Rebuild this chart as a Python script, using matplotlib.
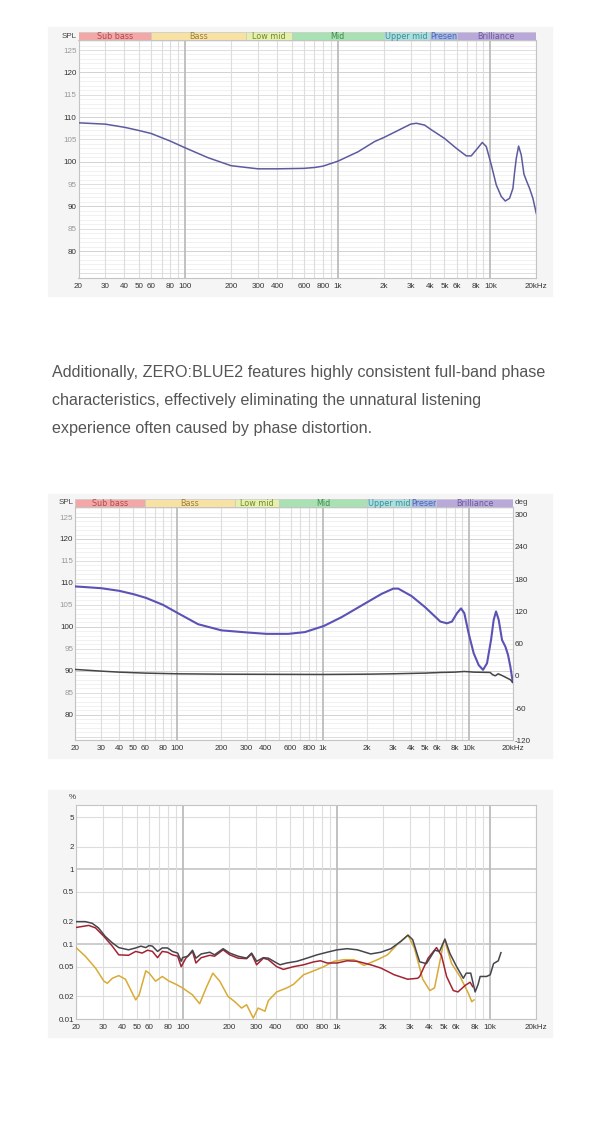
import numpy as np
import matplotlib
matplotlib.use('Agg')
import matplotlib.pyplot as plt
from matplotlib.patches import Rectangle
from matplotlib.ticker import NullLocator
from matplotlib.transforms import Bbox, TransformedBbox

plt.rcParams['font.family'] = ['Liberation Sans', 'DejaVu Sans']

# ---- data ----
# frequency response, first chart
fr1_hz = [20, 30, 40, 49.5, 60, 80, 100, 141, 200, 300, 400, 597, 705, 800, 1000,
          1355, 1742, 2000, 2356, 3000, 3270, 3705, 4040, 5010, 5980, 6950, 7490,
          8290, 8850, 9400, 10140, 10930, 11790, 12520, 13360, 14050, 14400, 14780,
          15310, 15940, 16600, 17300, 18080, 19000, 20000]
fr1_db = [108.7, 108.4, 107.7, 107.0, 106.3, 104.6, 103.1, 100.9, 99.1, 98.4, 98.4,
          98.5, 98.7, 99.0, 100.1, 102.2, 104.5, 105.4, 106.6, 108.4, 108.6, 108.2,
          107.3, 105.2, 103.0, 101.3, 101.3, 103.1, 104.3, 103.4, 99.3, 94.8, 92.2,
          91.2, 91.8, 94.0, 97.5, 100.7, 103.5, 101.5, 97.2, 95.6, 94.0, 91.8, 88.4]

# frequency response + phase, second chart
fr2_hz = [20, 30, 40, 50.6, 61, 80, 100, 139, 201, 306, 410, 577, 751, 1014, 1340,
          2021, 2521, 3032, 3282, 4051, 5003, 6016, 6374, 7083, 7664, 8292, 8838,
          9317, 9977, 10800, 11685, 12513, 13330, 14203, 14814, 15370, 16032, 16900,
          17815, 18582, 19280, 20000]
fr2_db = [109.2, 108.8, 108.2, 107.4, 106.6, 105.0, 103.2, 100.6, 99.2, 98.7, 98.4,
          98.4, 98.8, 100.2, 102.2, 105.65, 107.5, 108.7, 108.7, 107.0, 104.5, 102.0,
          101.2, 100.8, 101.2, 103.1, 104.2, 103.1, 98.5, 94.0, 91.3, 90.2, 91.7, 97.0,
          101.6, 103.5, 101.6, 97.0, 95.5, 93.6, 90.9, 87.5]
phase_hz = [20, 30, 40, 60, 100, 200, 1000, 2000, 3000, 5000, 6400, 8000, 9300,
            10000, 10800, 14000, 14600, 15200, 15900, 16700, 17800, 19300, 20000]
phase_deg = [11.8, 8.7, 6.8, 5.0, 3.7, 3.0, 2.5, 3.0, 3.7, 5.0, 6.2, 6.8, 8.0, 7.5,
             6.8, 6.2, 1.9, 0.0, 3.7, 1.2, -2.5, -7.4, -12.4]

# distortion, third chart (%)
thd_a_hz = [20, 23, 25.5, 28, 31, 34.5, 38, 44, 49, 53, 57, 60, 63, 68, 73, 79, 85,
            92, 97, 99, 107, 115, 121, 131, 149, 160, 182, 201, 228, 259, 279, 301,
            333, 359, 407, 428, 473, 551, 640, 745, 867, 1008, 1172, 1364, 1668, 1940,
            2256, 2624, 2918, 3131, 3377, 3481, 3850, 4367, 4688, 5080, 5479, 6058,
            6698, 7000, 7486, 7996, 8362, 8620, 9491, 10030, 10548, 11320, 11780]
thd_a = [0.20, 0.20, 0.19, 0.165, 0.127, 0.104, 0.09, 0.084, 0.089, 0.094, 0.09,
         0.096, 0.094, 0.08, 0.089, 0.089, 0.08, 0.076, 0.059, 0.066, 0.069, 0.083,
         0.065, 0.074, 0.078, 0.072, 0.087, 0.076, 0.069, 0.065, 0.076, 0.059, 0.066,
         0.065, 0.056, 0.053, 0.056, 0.059, 0.065, 0.072, 0.078, 0.084, 0.087, 0.084,
         0.074, 0.078, 0.087, 0.109, 0.132, 0.115, 0.07, 0.058, 0.055, 0.083, 0.08,
         0.117, 0.075, 0.05, 0.035, 0.041, 0.041, 0.023, 0.029, 0.037, 0.037, 0.039,
         0.055, 0.06, 0.077]
thd_b_hz = [20, 24.2, 26.8, 30.4, 34.5, 38, 44, 49, 54, 58.5, 63, 68, 73, 79, 85, 92,
            97, 104, 115, 121, 131, 149, 160, 182, 201, 228, 259, 279, 301, 333, 359,
            407, 450, 523, 609, 709, 784, 867, 1008, 1172, 1364, 1668, 1940, 2373, 2903,
            3377, 3481, 3948, 4479, 4831, 5210, 5761, 6182, 6870, 7413, 7714]
thd_b = [0.167, 0.178, 0.165, 0.127, 0.094, 0.072, 0.071, 0.08, 0.076, 0.083, 0.08,
         0.066, 0.08, 0.078, 0.072, 0.069, 0.05, 0.065, 0.08, 0.056, 0.066, 0.071,
         0.069, 0.084, 0.072, 0.065, 0.064, 0.074, 0.053, 0.065, 0.062, 0.05, 0.046,
         0.05, 0.053, 0.058, 0.06, 0.056, 0.056, 0.06, 0.059, 0.053, 0.048, 0.039,
         0.034, 0.035, 0.037, 0.065, 0.09, 0.07, 0.037, 0.024, 0.023, 0.028, 0.031,
         0.027]
thd_c_hz = [20, 23, 26.8, 30.4, 32, 34.5, 38, 42, 49, 51.6, 57, 60, 66, 73, 81, 90,
            99, 115, 128, 141, 156, 173, 196, 217, 240, 259, 286, 308, 341, 359, 407,
            473, 523, 609, 709, 824, 959, 1115, 1297, 1508, 1845, 2145, 2495, 2918,
            3211, 3642, 4049, 4346, 4807, 4955, 5080, 5618, 6371, 7227, 7600, 7870]
thd_c = [0.09, 0.069, 0.048, 0.032, 0.03, 0.035, 0.038, 0.034, 0.018, 0.021, 0.044,
         0.041, 0.032, 0.037, 0.032, 0.029, 0.026, 0.021, 0.016, 0.026, 0.041, 0.032,
         0.02, 0.017, 0.014, 0.0155, 0.0103, 0.014, 0.0127, 0.0176, 0.023, 0.026,
         0.029, 0.039, 0.044, 0.05, 0.059, 0.062, 0.062, 0.052, 0.062, 0.072, 0.1,
         0.132, 0.089, 0.034, 0.024, 0.026, 0.072, 0.103, 0.11, 0.055, 0.037, 0.022,
         0.017, 0.018]

bands = ['Sub bass', 'Bass', 'Low mid', 'Mid', 'Upper mid', 'Presence', 'Brilliance']
band_edges = [20, 60, 250, 500, 2000, 4000, 6000, 20000]
band_fill = ['#f4a7a7', '#f7e2a3', '#e6efac', '#a9e2b2', '#abe0dc', '#a9b9e6', '#b9a9da']
band_text = ['#b04a4a', '#9c7c3c', '#6c8c2c', '#3c8c4c', '#3c8ca0', '#4a68b0', '#6a5a9c']

xtick_hz = [20, 30, 40, 50, 60, 80, 100, 200, 300, 400, 600, 800, 1000, 2000, 3000,
            4000, 5000, 6000, 8000, 10000, 20000]
xtick_lab = ['20', '30', '40', '50', '60', '80', '100', '200', '300', '400', '600',
             '800', '1k', '2k', '3k', '4k', '5k', '6k', '8k', '10k', '20kHz']
spl_ticks = [80, 85, 90, 95, 100, 105, 110, 115, 120, 125]
deg_ticks = [-120, -60, 0, 60, 120, 180, 240, 300]
pct_ticks = [0.01, 0.02, 0.05, 0.1, 0.2, 0.5, 1, 2, 5]
pct_lab = ['0.01', '0.02', '0.05', '0.1', '0.2', '0.5', '1', '2', '5']

paragraph = ['Additionally, ZERO:BLUE2 features highly consistent full-band phase',
             'characteristics, effectively eliminating the unnatural listening',
             'experience often caused by phase distortion.']

# ---- figure in pixel units ----
W, H = 600, 1132
fig = plt.figure(figsize=(W / 100, H / 100), dpi=100)
fig.patch.set_facecolor('white')

TICK_FS = 5.8
LBL = '#333333'


def px_axes(x0, y0, x1, y1):
    return fig.add_axes([x0 / W, 1 - y1 / H, (x1 - x0) / W, (y1 - y0) / H])


def frame(x0, y0, x1, y1):
    fig.patches.append(Rectangle((x0 / W, 1 - y1 / H), (x1 - x0) / W, (y1 - y0) / H,
                                 transform=fig.transFigure, color='#f5f5f5', zorder=-5))


grid_hz = [k * 10 ** d for d in range(1, 5) for k in range(1, 10) if 20 <= k * 10 ** d <= 20000]


def freq_axis(ax):
    ax.set_xscale('log')
    ax.set_xlim(20, 20000)
    for f in grid_hz:
        dark = f in (100, 1000, 10000)
        ax.axvline(f, color='#bcbcbc' if dark else '#dddddd', lw=1.3 if dark else 0.8, zorder=1)
    ax.set_xticks(xtick_hz)
    ax.set_xticklabels(xtick_lab)
    ax.xaxis.set_minor_locator(NullLocator())
    ax.tick_params(axis='x', length=0, pad=3.5, labelsize=TICK_FS, labelcolor=LBL)
    ax.tick_params(axis='y', length=0, pad=1.5, labelsize=TICK_FS)
    for s in ax.spines.values():
        s.set_color('#c4c4c4')
        s.set_linewidth(0.8)


def spl_axis(ax, lo, hi):
    ax.set_ylim(lo, hi)
    for v in range(74, 128):
        c = '#d2d2d2' if v % 10 == 0 else ('#dedede' if v % 5 == 0 else '#f1f1f1')
        ax.axhline(v, color=c, lw=0.7, zorder=0.5)
    ax.set_yticks(spl_ticks)
    ax.set_yticklabels([str(v) for v in spl_ticks])
    for v, t in zip(spl_ticks, ax.get_yticklabels()):
        t.set_color('#333333' if v % 10 == 0 else '#9a9a9a')
    ax.yaxis.set_minor_locator(NullLocator())


def band_bar(x0, y0, x1, y1):
    bx = px_axes(x0, y0, x1, y1)
    bx.set_xscale('log')
    bx.set_xlim(20, 20000)
    bx.set_ylim(0, 1)
    bx.axis('off')
    for name, lo, hi, fc, tc in zip(bands, band_edges[:-1], band_edges[1:], band_fill, band_text):
        r = Rectangle((lo, 0), hi - lo, 1, facecolor=fc, edgecolor='#c8c8c8', lw=0.5)
        bx.add_patch(r)
        kw = dict(va='center', fontsize=5.8, color=tc, family='DejaVu Sans')
        if name == 'Presence':
            t = bx.text(lo * 1.01, 0.45, name, ha='left', **kw)
            t.set_clip_box(TransformedBbox(Bbox([[lo, 0], [hi, 1]]), bx.transData))
            t.set_clip_on(True)
        else:
            bx.text(np.sqrt(lo * hi), 0.45, name, ha='center', **kw)
    return bx


# ---- chart 1: frequency response ----
frame(48, 27, 552, 296)
ax1 = px_axes(78.5, 40, 536.3, 278)
freq_axis(ax1)
spl_axis(ax1, 73.96, 127.24)
ax1.plot(fr1_hz, fr1_db, color='#5b5b9e', lw=1.1, zorder=3)
band_bar(78.5, 31.7, 536.3, 40)
fig.text(77 / W, 1 - 36 / H, 'SPL', ha='right', va='center', fontsize=TICK_FS, color='#444444')

# ---- paragraph ----
for i, line in enumerate(paragraph):
    fig.text(51.5 / W, 1 - (377.3 + i * 27.7) / H, line, ha='left', va='baseline',
             fontsize=11.65, color='#555555')

# ---- chart 2: frequency response + phase ----
frame(48, 494, 552, 758)
ax2 = px_axes(75.3, 507, 512.7, 740.3)
freq_axis(ax2)
spl_axis(ax2, 74.17, 127.28)
ax2.plot(fr2_hz, fr2_db, color='#5a52b4', lw=1.5, zorder=3)
ax2r = ax2.twinx()
ax2r.set_ylim(-120, 314)
ax2r.set_yticks(deg_ticks)
ax2r.set_yticklabels([str(v) for v in deg_ticks])
ax2r.tick_params(axis='y', length=0, pad=1.5, labelsize=TICK_FS, labelcolor=LBL)
for s in ax2r.spines.values():
    s.set_visible(False)
ax2r.plot(phase_hz, phase_deg, color='#454545', lw=1.1, zorder=3)
band_bar(75.3, 498.7, 512.7, 507)
fig.text(73.5 / W, 1 - 503 / H, 'SPL', ha='right', va='center', fontsize=TICK_FS, color='#444444')
fig.text(514.5 / W, 1 - 503 / H, 'deg', ha='left', va='center', fontsize=TICK_FS, color='#444444')

# ---- chart 3: distortion ----
frame(48, 790, 552, 1037)
ax3 = px_axes(76, 804.7, 536.2, 1019)
freq_axis(ax3)
ax3.set_yscale('log')
ax3.set_ylim(0.01, 7.3)
for v in pct_ticks:
    ax3.axhline(v, color='#c0c0c0' if v in (0.1, 1) else '#dddddd', lw=1.1 if v in (0.1, 1) else 0.8, zorder=0.5)
ax3.set_yticks(pct_ticks)
ax3.set_yticklabels(pct_lab)
ax3.yaxis.set_minor_locator(NullLocator())
ax3.tick_params(axis='y', labelcolor=LBL)
ax3.plot(thd_c_hz, thd_c, color='#d9aa35', lw=1.1, zorder=3)
ax3.plot(thd_b_hz, thd_b, color='#a32431', lw=1.1, zorder=4)
ax3.plot(thd_a_hz, thd_a, color='#45454d', lw=1.1, zorder=5)
fig.text(72 / W, 1 - 797.5 / H, '%', ha='center', va='center', fontsize=TICK_FS, color='#444444')

fig.savefig('out.png', dpi=100, facecolor='white')
